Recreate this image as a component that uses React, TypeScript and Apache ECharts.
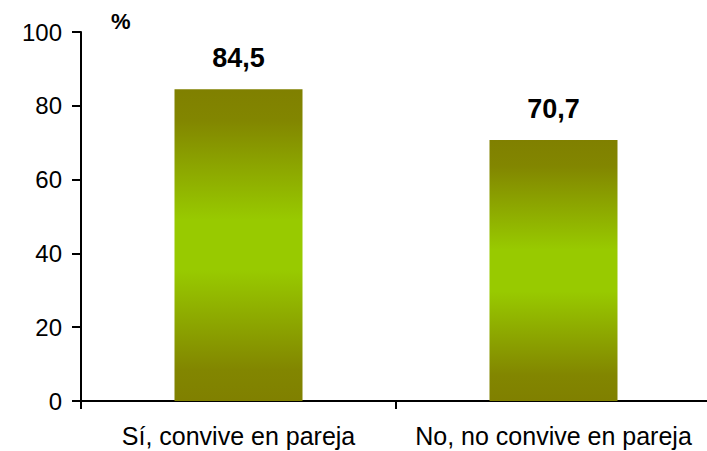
import React, { useEffect, useRef } from "react";
import * as echarts from "echarts";

const categories = ["Sí, convive en pareja", "No, no convive en pareja"];
const values = [84.5, 70.7];
const yTicks = [0, 20, 40, 60, 80, 100];
const unitLabel = "%";

export default function App() {
  const ref = useRef<HTMLDivElement>(null);
  useEffect(() => {
    if (!ref.current) return;
    const chart = echarts.init(ref.current, null, { renderer: "svg" });
    const font = "Liberation Sans, Arial, sans-serif";
    chart.setOption({
      animation: false,
      backgroundColor: "#ffffff",
      grid: {
        left: 81,
        top: 32,
        width: 630,
        height: 369,
        containLabel: false,
        outerBoundsMode: "none",
      },
      graphic: [
        {
          type: "text",
          left: 111,
          top: 10,
          style: { text: unitLabel, font: `bold 22px ${font}`, fill: "#000" },
        },
      ],
      xAxis: {
        type: "category",
        data: categories,
        axisLine: { lineStyle: { color: "#000", width: 2 } },
        axisTick: { show: true, length: 8, lineStyle: { color: "#000", width: 2 } },
        axisLabel: {
          color: "#000",
          fontSize: 25,
          fontFamily: font,
          margin: 22,
          interval: 0,
          hideOverlap: false,
        },
      },
      yAxis: {
        type: "value",
        min: yTicks[0],
        max: yTicks[yTicks.length - 1],
        interval: 20,
        splitLine: { show: false },
        axisLine: { show: true, lineStyle: { color: "#000", width: 2 } },
        axisTick: { show: true, length: 9, lineStyle: { color: "#000", width: 2 } },
        axisLabel: { color: "#000", fontSize: 24, fontFamily: font, margin: 19 },
      },
      series: [
        {
          type: "bar",
          data: values,
          barWidth: 128,
          itemStyle: {
            color: new echarts.graphic.LinearGradient(0, 0, 0, 1, [
              { offset: 0, color: "#808000" },
              { offset: 0.1, color: "#828600" },
              { offset: 0.42, color: "#98CA00" },
              { offset: 0.58, color: "#98CA00" },
              { offset: 0.9, color: "#828600" },
              { offset: 1, color: "#808000" },
            ]),
          },
          label: {
            show: true,
            position: "top",
            distance: 18,
            color: "#000",
            fontSize: 27,
            fontWeight: "bold",
            fontFamily: font,
            formatter: (p: any) => String(p.value).replace(".", ","),
          },
        },
      ],
    });
    return () => chart.dispose();
  }, []);
  return <div ref={ref} style={{ width: 707, height: 451, position: "absolute", left: 0, top: 0 }} />;
}
